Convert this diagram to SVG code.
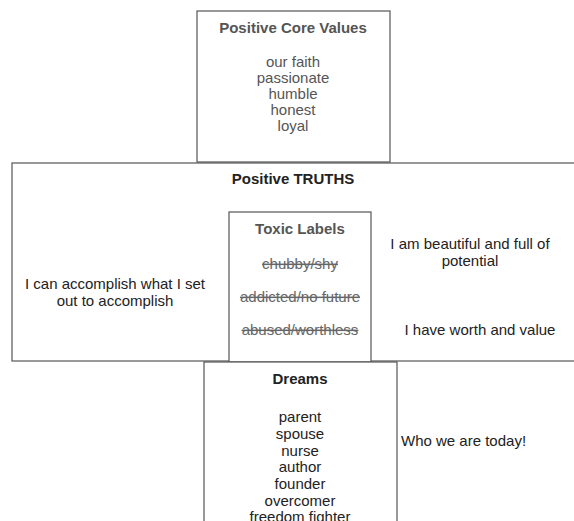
<svg xmlns="http://www.w3.org/2000/svg" width="574" height="521" viewBox="0 0 574 521">
<style>
.box{fill:#fff;stroke:#555;stroke-width:1.2}
text{font-family:"Liberation Sans",Arial,sans-serif;font-size:15px;text-anchor:middle}
.g{fill:#555}
.k{fill:#222}
.b{font-weight:bold}
.s{text-decoration:line-through;fill:#666}
</style>
<rect width="574" height="521" fill="#fff"/>
<g id="core">
<rect class="box" x="197" y="11" width="193" height="151"/>
<text class="g b" x="293" y="33">Positive Core Values</text>
<text class="g" x="293" y="67">our faith</text>
<text class="g" x="293" y="83">passionate</text>
<text class="g" x="293" y="99">humble</text>
<text class="g" x="293" y="115">honest</text>
<text class="g" x="293" y="131">loyal</text>
</g>
<g id="truths">
<rect class="box" x="12" y="163" width="570" height="198"/>
<text class="k b" x="293" y="184">Positive TRUTHS</text>
<text class="k" x="115" y="289">I can accomplish what I set</text>
<text class="k" x="115" y="306">out to accomplish</text>
<text class="k" x="470" y="249">I am beautiful and full of</text>
<text class="k" x="470" y="266">potential</text>
<text class="k" x="480" y="335">I have worth and value</text>
</g>
<g id="toxic">
<rect class="box" x="229" y="212" width="142" height="150"/>
<text class="g b" x="300" y="234">Toxic Labels</text>
<text class="s" x="300" y="269">chubby/shy</text>
<text class="s" x="300" y="302">addicted/no future</text>
<text class="s" x="300" y="335">abused/worthless</text>
</g>
<g id="dreams">
<rect class="box" x="204" y="362" width="193" height="170"/>
<text class="k b" x="300" y="384">Dreams</text>
<text class="k" x="300" y="422">parent</text>
<text class="k" x="300" y="439">spouse</text>
<text class="k" x="300" y="456">nurse</text>
<text class="k" x="300" y="472">author</text>
<text class="k" x="300" y="489">founder</text>
<text class="k" x="300" y="506">overcomer</text>
<text class="k" x="300" y="522">freedom fighter</text>
</g>
<g id="today">
<text class="k" x="401" y="446" style="text-anchor:start">Who we are today!</text>
</g>
<g id="connectors"></g>
</svg>
